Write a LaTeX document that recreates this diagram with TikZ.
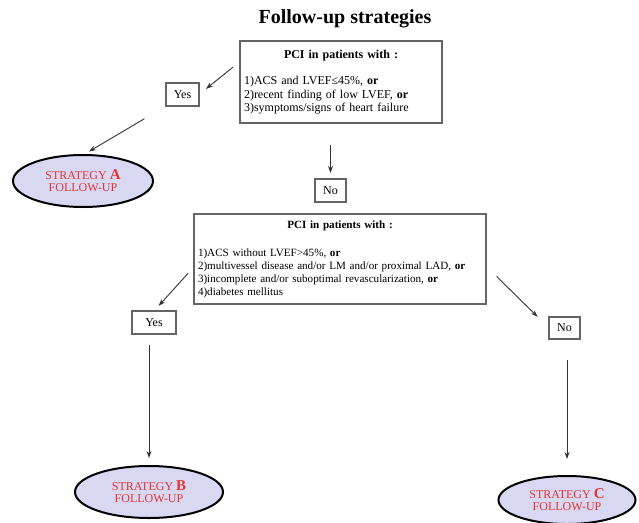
\documentclass[tikz,border=0pt]{standalone}
\usepackage{fontspec}
\setmainfont{Liberation Serif}
\usetikzlibrary{arrows.meta,shapes.geometric}
\definecolor{lav}{RGB}{216,216,242}
\definecolor{stred}{RGB}{228,52,52}
\definecolor{boxgray}{RGB}{100,100,100}
\begin{document}
\begin{tikzpicture}[x=1pt,y=-1pt,
  box/.style={draw=boxgray, line width=1.2pt, inner sep=0pt, outer sep=0pt, font=\fontsize{12}{13.5}\selectfont},
  small/.style={box, minimum height=23pt, align=center},
  strat/.style={ellipse, draw=black, line width=2pt, fill=lav, inner sep=0pt, outer sep=0pt, align=center, font=\fontsize{12}{13}\selectfont, text=stred},
  arr/.style={draw=black!80, line width=0.9pt, -{Stealth[length=7pt,width=5pt]}}]
\useasboundingbox (0,0) rectangle (639,522);
\node[font=\fontsize{20}{24}\selectfont\bfseries] (title) at (345,18.5) {Follow-up strategies};
\node[box, minimum width=202pt, minimum height=82pt, text width=194pt, align=left] (b1) at (341,82)
  {\makebox[194pt]{\textbf{PCI in patients with :}}\\[13pt]
   1)ACS and LVEF≤45\%, \textbf{or}\\
   2)recent finding of low LVEF, \textbf{or}\\
   3)symptoms/signs of heart failure};
\node[small, minimum width=33pt] (yes1) at (182.5,94.5) {Yes};
\node[small, minimum width=31pt] (no1) at (330.5,190.5) {No};
\node[strat, minimum width=140pt, minimum height=52pt] (A) at (83,181)
  {STRATEGY {\fontsize{15}{15}\selectfont\bfseries A}\\[-1pt]FOLLOW-UP};
\node[box, minimum width=292pt, minimum height=90pt, text width=284pt, align=left, font=\fontsize{11.1}{13}\selectfont] (b2) at (340,259)
  {\makebox[284pt]{\textbf{PCI in patients with :}}\\[15pt]
   1)ACS without LVEF>45\%, \textbf{or}\\
   2)multivessel disease and/or LM and/or proximal LAD, \textbf{or}\\
   3)incomplete and/or suboptimal revascularization, \textbf{or}\\
   4)diabetes mellitus};
\node[small, minimum width=44pt] (yes2) at (154,322.5) {Yes};
\node[small, minimum width=31pt, minimum height=22pt] (no2) at (564.5,328) {No};
\node[strat, minimum width=148pt, minimum height=52pt] (B) at (149,492)
  {STRATEGY {\fontsize{15}{15}\selectfont\bfseries B}\\[-1pt]FOLLOW-UP};
\node[strat, minimum width=137pt, minimum height=48pt] (C) at (567,500)
  {STRATEGY {\fontsize{15}{15}\selectfont\bfseries C}\\[-1pt]FOLLOW-UP};
\draw[arr, shorten <=9pt, shorten >=9pt] ([yshift=20.5pt]b1.west) -- (yes1.east);
\draw[arr, shorten <=25pt, shorten >=7pt] (yes1.south west) -- (A.north);
\draw[arr, shorten <=22pt, shorten >=6pt] (no1.north |- b1.south) -- (no1.north);
\draw[arr, shorten <=9pt, shorten >=7pt] ([yshift=-7.7pt]b2.west) -- (yes2.north);
\draw[arr, shorten <=15pt, shorten >=16pt] ([yshift=-7pt]b2.east) -- (no2.west);
\draw[arr, shorten <=11pt, shorten >=8pt] (B.north |- yes2.south) -- (B.north);
\draw[arr, shorten <=21pt, shorten >=17pt] (C.north |- no2.south) -- (C.north);
\end{tikzpicture}
\end{document}
